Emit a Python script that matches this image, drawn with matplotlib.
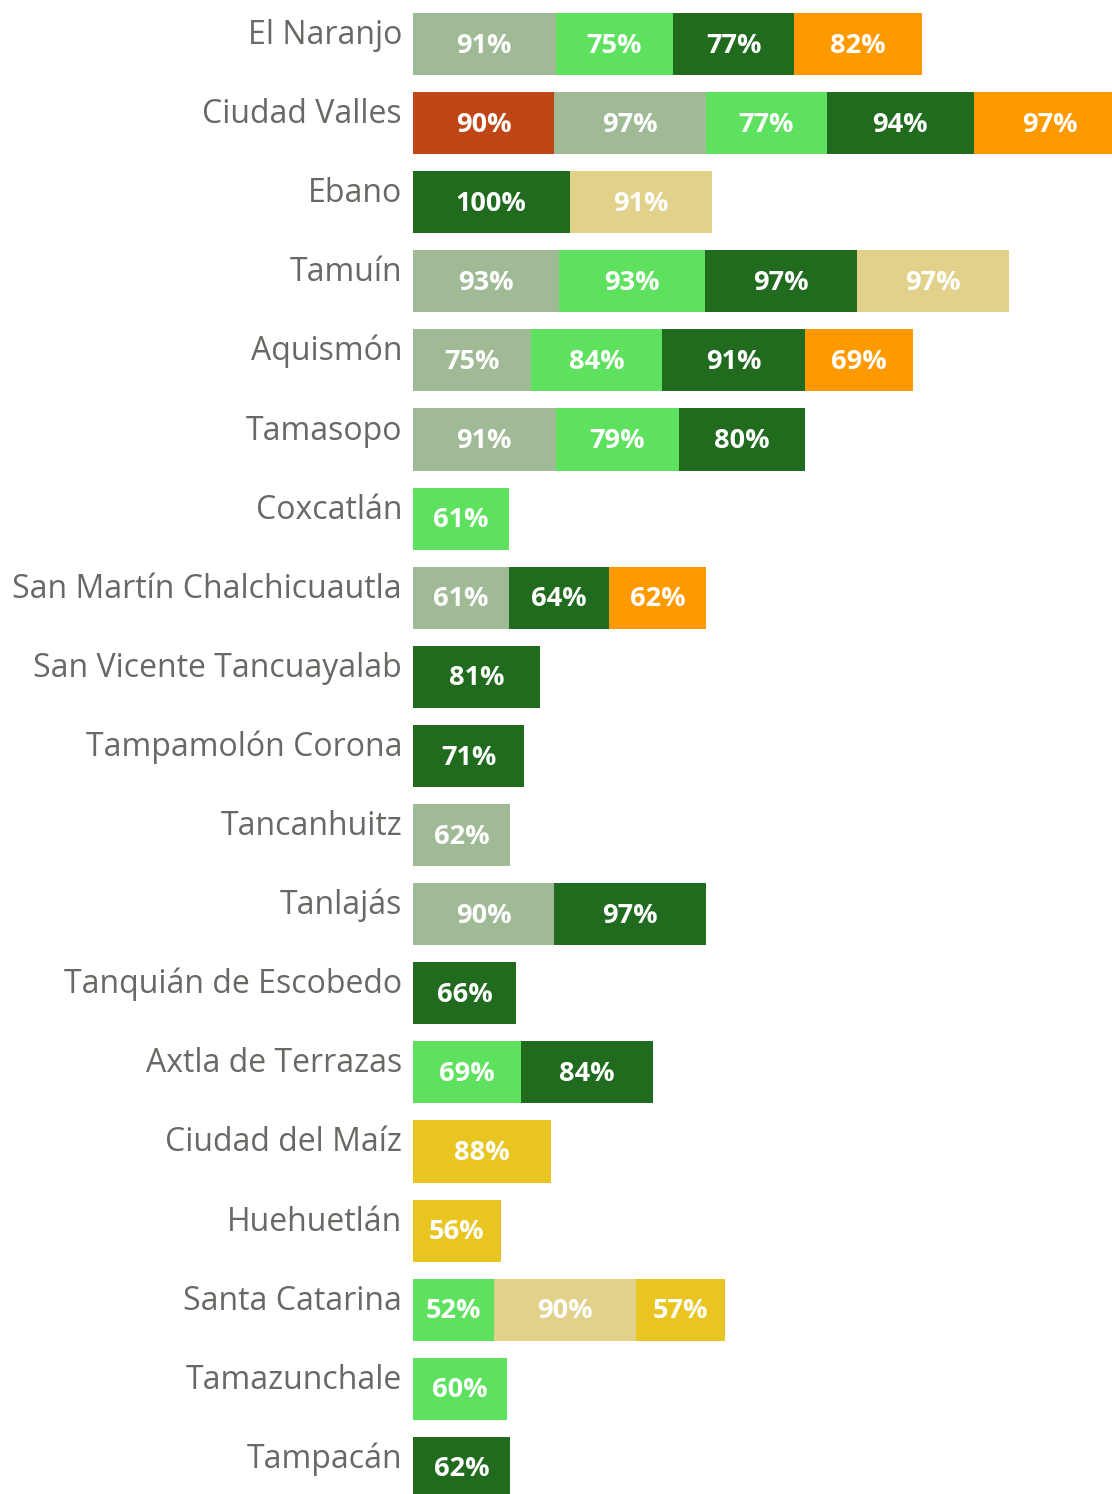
import matplotlib.pyplot as plt
import numpy as np

plt.rcParams["font.family"] = ["Open Sans", "DejaVu Sans"]

MUNICIPIOS = [
    "El Naranjo", "Ciudad Valles", "Ebano", "Tamuín", "Aquismón", "Tamasopo",
    "Coxcatlán", "San Martín Chalchicuautla", "San Vicente Tancuayalab",
    "Tampamolón Corona", "Tancanhuitz", "Tanlajás", "Tanquián de Escobedo",
    "Axtla de Terrazas", "Ciudad del Maíz", "Huehuetlán", "Santa Catarina",
    "Tamazunchale", "Tampacán",
]

# one list per series, None where the municipality has no segment
rojo = [None, 90, None, None, None, None, None, None, None, None, None, None, None, None, None, None, None, None, None]
salvia = [91, 97, None, 93, 75, 91, None, 61, None, None, 62, 90, None, None, None, None, None, None, None]
verde_claro = [75, 77, None, 93, 84, 79, 61, None, None, None, None, None, None, 69, None, None, 52, 60, None]
verde_oscuro = [77, 94, 100, 97, 91, 80, None, 64, 81, 71, None, 97, 66, 84, None, None, None, None, 62]
naranja = [82, 97, None, None, 69, None, None, 62, None, None, None, None, None, None, None, None, None, None, None]
caqui = [None, None, 91, 97, None, None, None, None, None, None, None, None, None, None, None, None, 90, None, None]
amarillo = [None, None, None, None, None, None, None, None, None, None, None, None, None, None, 88, 56, 57, None, None]

SERIES = [rojo, salvia, verde_claro, verde_oscuro, naranja, caqui, amarillo]
COLORS = ["#BF4616", "#A0BA96", "#5EE15E", "#206B1E", "#FF9900", "#E1D18B", "#E8C520"]

fig = plt.figure(figsize=(11.12, 14.94), dpi=100)
ax = fig.add_axes([413 / 1112, 0, 1 - 413 / 1112, 1])

y = np.arange(len(MUNICIPIOS))
left = np.zeros(len(MUNICIPIOS))
for vals, color in zip(SERIES, COLORS):
    w = np.array([v if v is not None else 0 for v in vals], dtype=float)
    ax.barh(y, w, left=left, height=0.785, color=color, linewidth=0)
    for i, v in enumerate(vals):
        if v is not None:
            ax.text(left[i] + v / 2, y[i] + 0.02, f"{v}%", ha="center", va="center",
                    color="white", fontsize=19.5, fontweight="bold")
    left += w

for i, name in enumerate(MUNICIPIOS):
    ax.text(-7, y[i], name, ha="right", va="baseline", color="#686864",
            fontsize=23, clip_on=False)

ax.set_xlim(0, 446)
ax.set_ylim(18.33, -0.556)
ax.axis("off")

fig.savefig("out.png", dpi=100)
